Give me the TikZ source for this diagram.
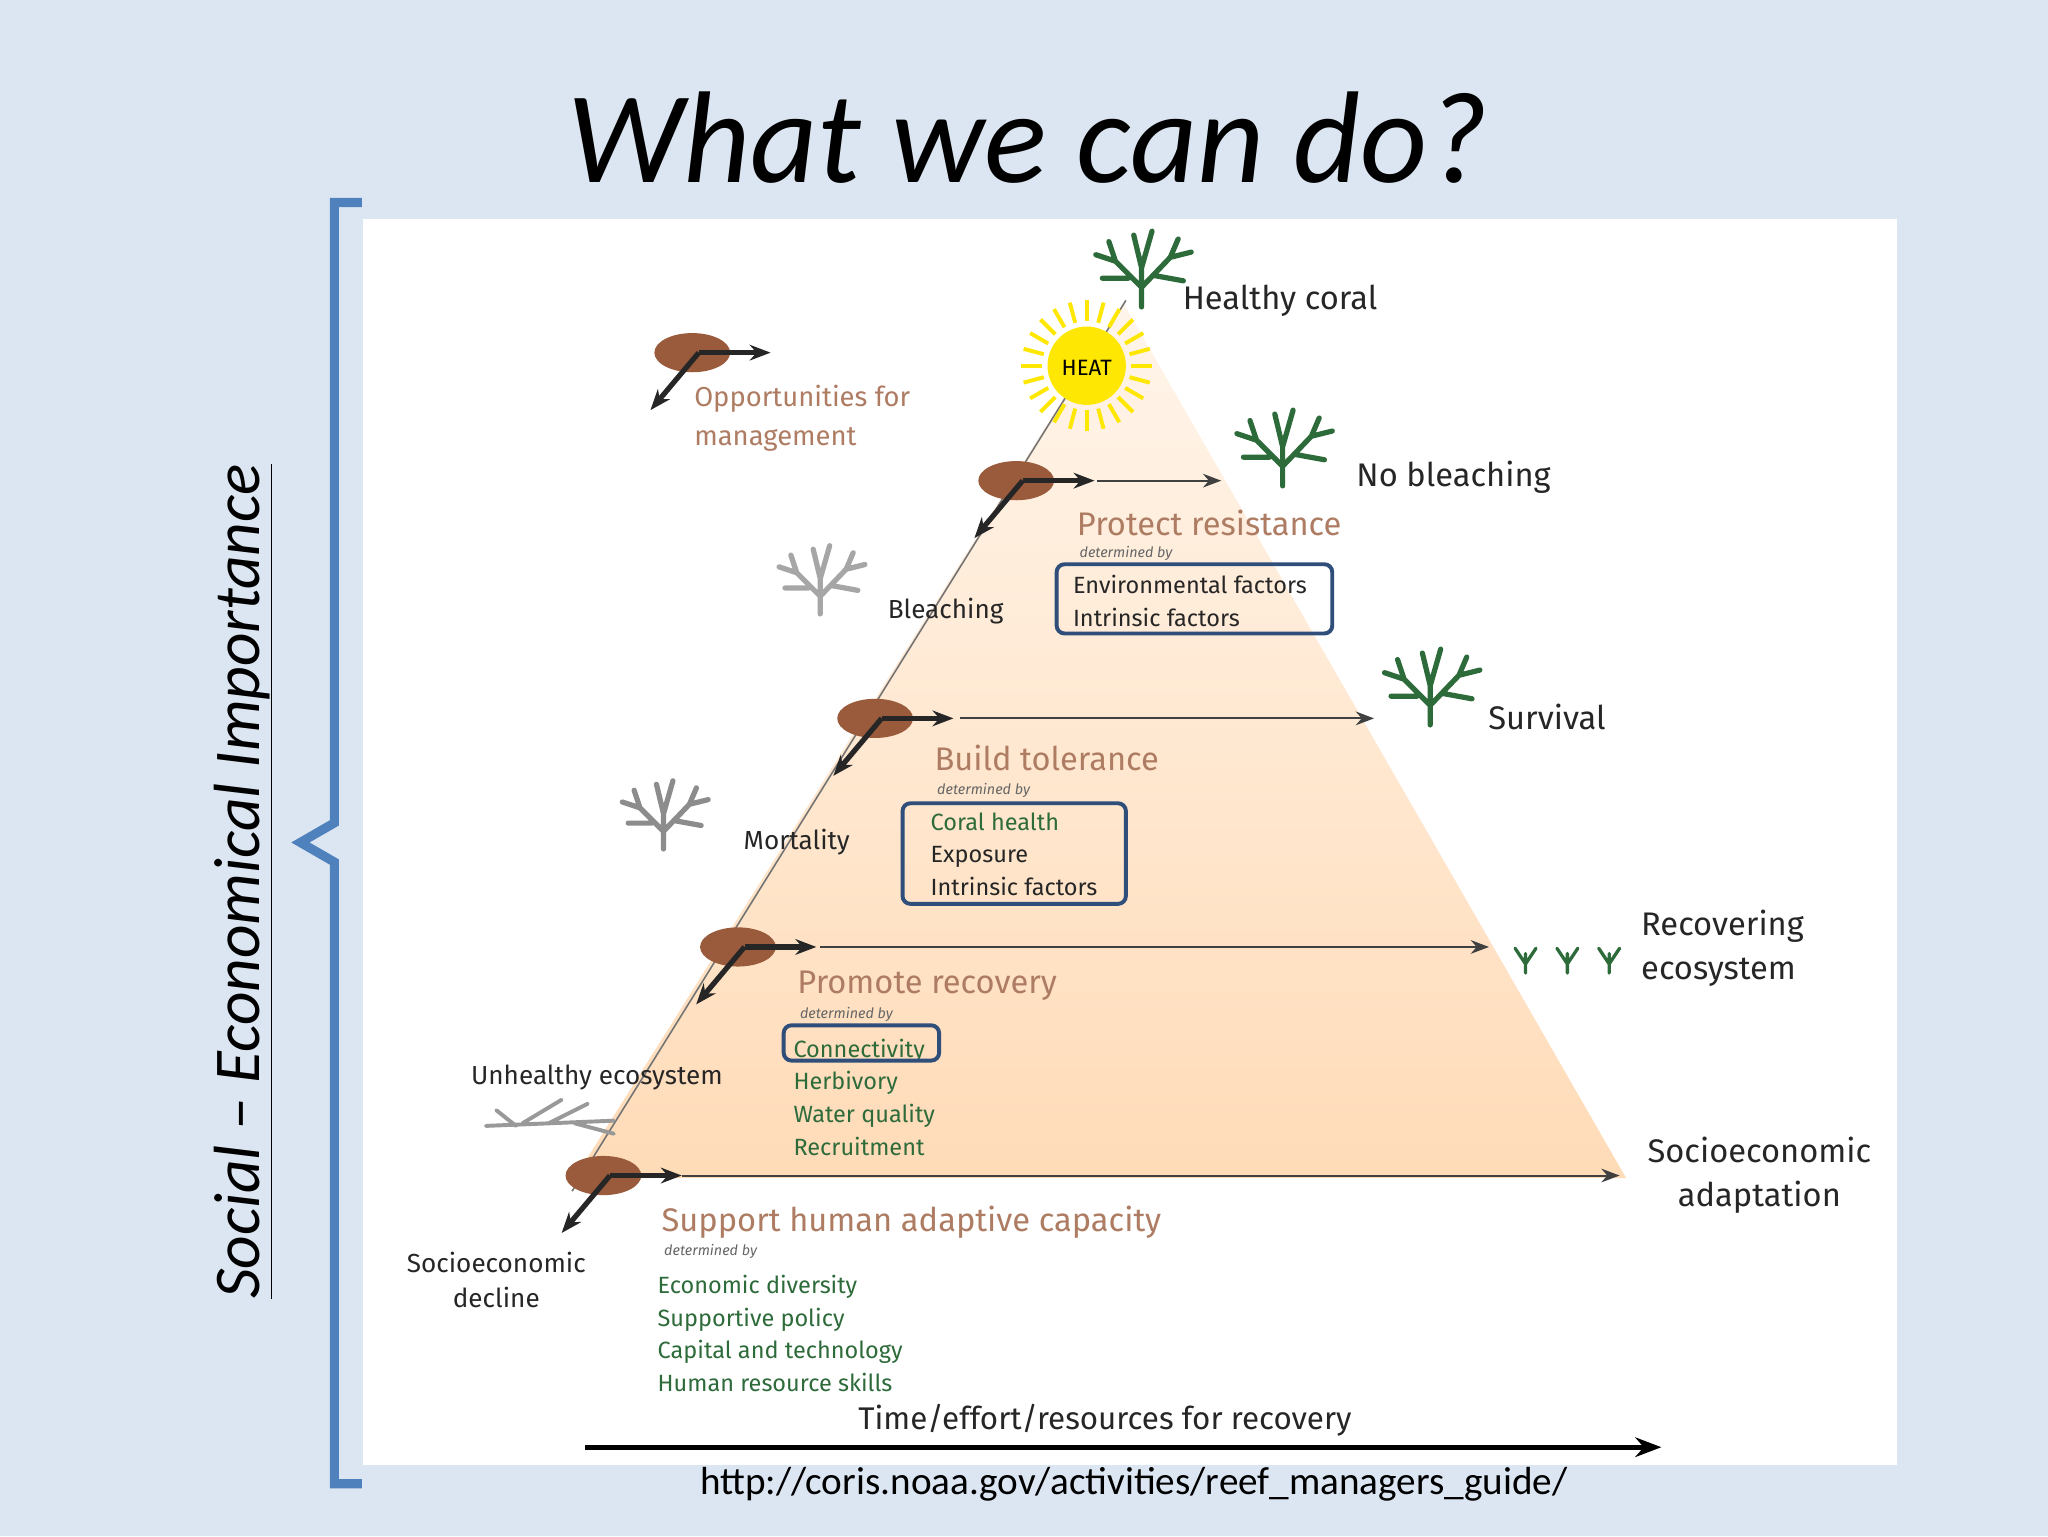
\documentclass[tikz,border=0pt]{standalone}
\usepackage{fontspec}
\setmainfont{Carlito}
\newfontfamily\dfont{Fira Sans}
\usetikzlibrary{arrows.meta,shapes.geometric}
\definecolor{bg}{HTML}{DCE6F2}
\definecolor{brk}{HTML}{4F81BD}
\definecolor{mgt}{HTML}{9A5B3C}
\definecolor{grn}{HTML}{2E6B3A}
\definecolor{boxb}{HTML}{2F4E7A}
\begin{document}
\begin{tikzpicture}[x=1pt,y=-1pt,
 lbl/.style={font=\dfont\fontsize{20}{24}\selectfont,text=black!85,align=center},
 big/.style={font=\dfont\fontsize{25}{34}\selectfont,text=black!85,align=center},
 mg/.style={font=\dfont\fontsize{25}{28}\selectfont,text=mgt!80,anchor=west},
 det/.style={font=\dfont\itshape\fontsize{11}{12}\selectfont,text=black!60,anchor=west},
 fac/.style={font=\dfont\fontsize{18}{25}\selectfont,anchor=west,align=left},
 bx/.style={draw=boxb,line width=3pt,rounded corners=6pt},
 ar/.style={-{Stealth[length=14pt]},line width=1.5pt,black!75},
 coral/.style={line width=4pt,line cap=round}]
\fill[bg] (0,0) rectangle (1568,1176);
\useasboundingbox (0,0) rectangle (1568,1176);
\fill[white] (278,168) rectangle (1452,1122);
\node[font=\itshape\fontsize{100}{100}\selectfont] (title) at (787,105) {What we can do?};
% bracket
\draw[brk,line width=7pt] (277,155) -- (256,155) -- (256,630) -- (230,645) -- (256,660) -- (256,1136) -- (277,1136);
\node[rotate=90,font=\itshape\fontsize{50}{52}\selectfont] (side) at (186,675) {\underline{Social -- Economical Importance}};
% triangle
\shade[top color=orange!8,bottom color=orange!28] (860,232) -- (1245,902) -- (440,902) -- cycle;
\draw[black!55,line width=1.2pt] (862,230) -- (438,912);
% horizontal arrows
\draw[ar] (840,368) -- (935,368);
\draw[ar] (735,550) -- (1052,550);
\draw[ar] (628,725) -- (1140,725);
\draw[ar] (522,900) -- (1240,900);
\draw[-{Stealth[length=20pt]},line width=4pt] (448,1108) -- (1272,1108);
% management icons
\foreach \n/\x/\y in {m1/530/270,m2/778/368,m3/670/550,m4/565/725,m5/462/900}{
 \node[ellipse,fill=mgt,minimum width=58,minimum height=30,inner sep=0] (\n) at (\x,\y) {};
 \draw[-{Stealth[length=16pt]},line width=4pt,black!85] (\x+5,\y) -- (\x+60,\y);
 \draw[-{Stealth[length=16pt]},line width=4pt,black!85] (\x+5,\y) -- (\x-32,\y+44);
}
% sun
\foreach \a in {0,15,...,345}{\draw[yellow!90!orange,line width=3pt] (832,280) ++(\a:34) -- ++(\a:16);}
\node[circle,fill=yellow!90!orange,minimum size=60] (sun) at (832,280) {};
\node[font=\dfont\fontsize{17}{18}\selectfont] at (832,282) {HEAT};
% corals
\newcommand{\mycoral}[4]{\begin{scope}[shift={(#1,#2)},scale=#3,coral,draw=#4]
 \draw (0,0) -- (0,-30) (0,-15) -- (-20,-35) -- (-25,-50) (-20,-35) -- (-35,-40) (0,-15) -- (22,-38) -- (28,-52) (22,-38) -- (38,-42) (0,-30) -- (-6,-55) (0,-30) -- (8,-58) (-10,-22) -- (-30,-22) (10,-24) -- (32,-20);
\end{scope}}
\mycoral{874}{235}{1}{grn}
\mycoral{982}{372}{1}{grn}
\mycoral{1095}{555}{1}{grn}
\mycoral{628}{470}{0.9}{black!35}
\mycoral{508}{650}{0.9}{black!45}
\begin{scope}[coral,draw=grn,line width=2.5pt]
\foreach \x in {1168,1200,1232}{\draw (\x,745) -- (\x,730) (\x,738) -- (\x-8,726) (\x,738) -- (\x+8,726);}
\end{scope}
\begin{scope}[coral,draw=black!40,line width=3pt]
\draw (372,862) -- (470,858) (400,860) -- (430,842) (420,860) -- (450,845) (440,860) -- (470,868) (395,862) -- (380,850);
\end{scope}
% labels
\node[big,anchor=west] (hc) at (902,230) {Healthy coral};
\node[big,anchor=west] (nb) at (1035,365) {No bleaching};
\node[big,anchor=west] (sv) at (1136,549) {Survival};
\node[big,anchor=west,align=left] (re) at (1253,726) {Recovering\\ecosystem};
\node[big] (sa) at (1347,900) {Socioeconomic\\adaptation};
\node[lbl] (bl) at (724,468) {Bleaching};
\node[lbl] (mo) at (610,645) {Mortality};
\node[lbl] (ue) at (457,825) {Unhealthy ecosystem};
\node[lbl,font=\dfont\fontsize{20}{27}\selectfont] (sd) at (380,980) {Socioeconomic\\decline};
\node[mg,align=left,font=\dfont\fontsize{21}{30}\selectfont] (om) at (528,320) {Opportunities for\\management};
\node[mg] (pr) at (821,400) {Protect resistance};
\node[det] at (823,424) {determined by};
\node[fac,text=black!85] (f1) at (818,460) {Environmental factors\\Intrinsic factors};
\draw[bx] (809,432) rectangle (1020,485);
\node[mg] (bt) at (712,580) {Build tolerance};
\node[det] at (714,605) {determined by};
\node[fac,text=black!85] (f2) at (709,654) {\textcolor{grn}{Coral health}\\Exposure\\Intrinsic factors};
\draw[bx] (691,615) rectangle (862,692);
\node[mg] (rc) at (607,755) {Promote recovery};
\node[det] at (609,777) {determined by};
\node[fac,text=grn] (f3) at (604,840) {Connectivity\\Herbivory\\Water quality\\Recruitment};
\draw[bx] (600,785) rectangle (719,812);
\node[mg] (sh) at (503,936) {Support human adaptive capacity};
\node[det] at (505,958) {determined by};
\node[fac,text=grn] (f4) at (500,1021) {Economic diversity\\Supportive policy\\Capital and technology\\Human resource skills};
\node[lbl,font=\dfont\fontsize{24}{26}\selectfont] (tm) at (846,1087) {Time/effort/resources for recovery};
\node[font=\fontsize{30}{32}\selectfont] (url) at (868,1136) {http://coris.noaa.gov/activities/reef\_managers\_guide/};
\end{tikzpicture}
\end{document}
